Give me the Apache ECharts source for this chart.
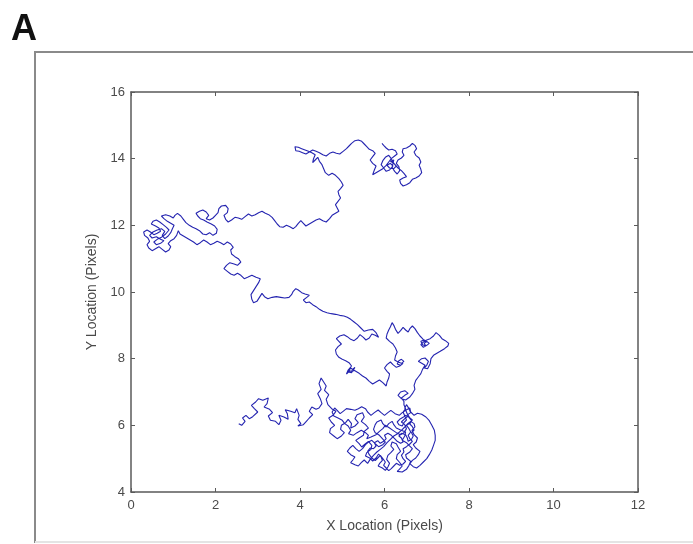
<!DOCTYPE html>
<html>
<head>
<meta charset="utf-8">
<script src="https://cdn.jsdelivr.net/npm/echarts@6/dist/echarts.min.js"></script>
<style>
html,body{margin:0;padding:0;background:#fff;}
#chart{width:693px;height:544px;}
</style>
</head>
<body>
<div id="chart"></div>
<script>
// Trajectory, as [X location, Y location] (pixels), in walk order
var tailPoints = [
[2.55,6.05],[2.62,6.0],[2.7,6.12],[2.64,6.22],[2.72,6.3],[2.8,6.2],[2.88,6.26],[3.0,6.4],[2.92,6.5],[2.85,6.6],[2.95,6.7],[3.02,6.8],[3.12,6.75],[3.25,6.82],[3.22,6.65],[3.15,6.55],[3.28,6.48],[3.35,6.38],[3.25,6.28],[3.3,6.15],[3.42,6.12],[3.5,6.02],[3.55,6.15],[3.5,6.3],[3.62,6.25],[3.72,6.18],[3.7,6.35],[3.65,6.47],[3.78,6.42],[3.88,6.38],[3.92,6.5],[3.98,6.3],[3.95,6.18],[4.02,6.05],[3.95,5.98],[4.08,6.02],[4.15,6.12],[4.22,6.22],[4.3,6.32],[4.22,6.42],[4.28,6.55],[4.38,6.48],[4.45,6.52],[4.52,6.65],[4.48,6.8],[4.42,6.95],[4.5,7.08],[4.45,7.25],[4.5,7.42],[4.56,7.3],[4.62,7.18],[4.58,7.05],[4.68,6.92],[4.62,6.78],[4.66,6.62]
];
var bottomClusterPoints = [
[4.75,6.5],[4.85,6.42],[4.78,6.3],[4.68,6.22],[4.74,6.1],[4.82,6.0],[4.72,5.9],[4.7,5.78],[4.8,5.68],[4.88,5.6],[4.98,5.68],[5.05,5.78],[4.96,5.88],[4.98,6.0],[5.08,6.08],[5.14,6.18],[5.22,6.05],[5.2,5.92],[5.3,5.98],[5.38,6.08],[5.3,6.2],[5.35,6.32],[5.48,6.38],[5.52,6.25],[5.45,6.12],[5.55,6.02],[5.62,5.92],[5.52,5.82],[5.5,5.7],[5.4,5.62],[5.32,5.55],[5.4,5.45],[5.46,5.35],[5.55,5.45],[5.62,5.52],[5.7,5.4],[5.68,5.28],[5.58,5.18],[5.55,5.08],[5.65,5.02],[5.72,4.93],[5.8,5.02],[5.86,5.14],[5.92,5.05],[5.95,4.95],[5.88,4.85],[5.85,4.78],[5.95,4.72],[6.02,4.65],[6.08,4.75],[6.12,4.86],[6.05,4.98],[6.08,5.1],[6.15,5.18],[6.22,5.28],[6.15,5.38],[6.18,5.5],[6.28,5.45],[6.32,5.35],[6.38,5.22],[6.3,5.12],[6.28,5.0],[6.35,4.9],[6.42,4.78],[6.35,4.68],[6.3,4.62],[6.42,4.6],[6.52,4.68],[6.58,4.8],[6.62,4.92],[6.52,5.02],[6.5,5.12],[6.6,5.2],[6.66,5.3],[6.58,5.4],[6.52,5.48],[6.42,5.55],[6.48,5.68],[6.5,5.8],[6.38,5.86],[6.28,5.92],[6.22,6.02],[6.18,6.12],[6.1,6.05],[6.04,5.95],[5.96,6.05],[5.92,6.16],[5.82,6.1],[5.78,6.02],[5.74,5.88],[5.78,5.78],[5.88,5.7],[5.95,5.6],[6.02,5.5],[5.96,5.42],[5.86,5.36],[5.78,5.45],[5.7,5.55],[5.62,5.5],[5.55,5.42],[5.48,5.3],[5.4,5.22],[5.32,5.3],[5.25,5.4],[5.18,5.32],[5.12,5.22],[5.2,5.12],[5.3,5.05],[5.25,4.96],[5.2,4.88],[5.3,4.82],[5.38,4.78],[5.45,4.88],[5.52,4.96],[5.6,4.86],
[5.66,4.98],[5.74,5.1],[5.82,5.2],[5.9,5.28],[5.98,5.36],[6.06,5.48],[6.14,5.58],[6.22,5.68],[6.3,5.74],[6.4,5.85],[6.48,5.95],[6.55,6.05],[6.62,6.12],[6.7,6.05],[6.72,5.95],[6.65,5.85],[6.7,5.72],[6.78,5.62],[6.75,5.5],[6.68,5.42],[6.74,5.32],[6.84,5.22],[6.8,5.12],[6.74,5.02],[6.66,4.95],[6.6,4.85],[6.68,4.76],[6.76,4.72],[6.84,4.8],[6.92,4.9],[7.0,5.0],[7.06,5.12],[7.12,5.26],[7.16,5.4],[7.2,5.55],[7.2,5.7],[7.18,5.85],[7.12,6.0],[7.06,6.14],[6.98,6.25],[6.88,6.33],[6.78,6.36],[6.7,6.3],[6.62,6.4],[6.6,6.52],[6.5,6.45],[6.42,6.38],[6.35,6.3],[6.25,6.35],[6.15,6.45],[6.08,6.38],[6.0,6.3],[5.92,6.38],[5.85,6.46],[5.76,6.38],[5.68,6.3],[5.6,6.4],[5.55,6.5],[5.46,6.56],[5.38,6.5],[5.3,6.45],[5.2,6.48],[5.1,6.5],[5.02,6.42],[4.95,6.35],[4.88,6.45],[4.82,6.52],[4.76,6.4],[4.8,6.28],[4.9,6.22],[5.0,6.15],[5.06,6.05],[5.14,5.98],[5.2,5.85],[5.15,5.75],[5.26,5.7],[5.35,5.78],[5.45,5.85],[5.55,5.78],[5.62,5.7],[5.58,5.6],[5.68,5.65],[5.8,5.72],[5.88,5.82],[5.96,5.9],[6.02,6.0],[6.12,5.92],[6.2,5.85],[6.28,5.78],[6.38,5.72],[6.46,5.78],[6.52,5.9],[6.48,6.02],[6.4,6.1],[6.48,6.2],[6.56,6.28],[6.52,6.4],[6.48,6.52],[6.52,6.62],
[6.58,6.5],[6.62,6.38],[6.55,6.32],[6.6,6.22],[6.66,6.16],[6.6,6.06],[6.52,6.0],[6.58,5.9],[6.62,5.8],[6.56,5.7],[6.6,5.6],[6.66,5.52],[6.6,5.44],[6.52,5.36],[6.44,5.3],[6.46,5.2],[6.4,5.1],[6.44,5.0],[6.5,4.92],[6.44,4.84],[6.36,4.8],[6.28,4.86],[6.22,4.78],[6.16,4.7],[6.1,4.64],[6.04,4.72],[5.98,4.8],[6.02,4.9],[5.96,5.0],[5.9,5.1],[5.84,5.02],[5.78,4.94],[5.7,5.02],[5.64,5.12],[5.6,5.22],[5.66,5.32],[5.74,5.3],[5.8,5.38],[5.76,5.48],[5.84,5.54],[5.9,5.46],[5.98,5.52],[6.04,5.6],[6.0,5.7],[6.08,5.76],[6.16,5.7],[6.24,5.6],[6.3,5.52],[6.38,5.46],[6.44,5.5],[6.4,5.62],[6.34,5.68],[6.4,5.76],[6.5,5.72],[6.54,5.62],[6.56,5.52],[6.64,5.58],[6.68,5.68],[6.64,5.78],[6.7,5.86],[6.66,5.96],[6.6,6.04],[6.64,6.14],[6.58,6.24],[6.5,6.3],[6.44,6.24],[6.36,6.18],[6.3,6.1],[6.34,6.02],[6.42,5.98],[6.46,6.08],[6.52,6.16],[6.48,6.28],[6.44,6.4],[6.5,6.5],[6.46,6.62]
];
var middleClusterPoints = [
[6.46,6.72],[6.4,6.82],[6.48,6.9],[6.56,6.96],[6.48,7.04],[6.38,7.0],[6.32,6.9],[6.4,6.8],[6.5,6.76],[6.6,6.85],[6.66,6.95],[6.72,7.08],[6.7,7.2],[6.74,7.35],[6.8,7.45],[6.86,7.55],[6.9,7.68],[6.96,7.8],[6.88,7.86],[6.8,7.92],[6.88,8.0],[6.96,8.02],[7.04,7.92],[7.0,7.8],[6.94,7.72],[7.02,7.7],[7.08,7.85],[7.1,8.0],[7.16,8.1],[7.24,8.16],[7.32,8.22],[7.42,8.3],[7.5,8.38],[7.52,8.46],[7.44,8.54],[7.36,8.6],[7.3,8.7],[7.22,8.78],[7.16,8.68],[7.08,8.6],[7.0,8.56],[6.92,8.5],[6.86,8.42],[6.92,8.34],[7.0,8.4],[7.06,8.46],[7.0,8.52],[6.94,8.46],[6.98,8.38],[6.9,8.42],[6.86,8.52],[6.94,8.56],[7.02,8.5],[6.96,8.5],[6.9,8.6],[6.84,8.68],[6.78,8.78],[6.72,8.9],[6.66,8.98],[6.6,8.9],[6.56,8.8],[6.5,8.86],[6.44,8.94],[6.38,8.84],[6.32,8.76],[6.26,8.88],[6.22,9.0],[6.18,9.08],[6.14,8.96],[6.1,8.86],[6.06,8.74],[6.04,8.62],[6.12,8.52],[6.2,8.44],[6.26,8.32],[6.3,8.2],[6.26,8.08],[6.24,7.96],[6.32,7.9],[6.4,7.86],[6.46,7.92],[6.4,7.98],[6.34,7.94],[6.3,7.84],[6.38,7.8],[6.44,7.86],[6.36,7.78],[6.28,7.74],[6.2,7.82],[6.14,7.9],[6.06,7.82],[6.0,7.72],[6.06,7.62],[6.12,7.54],[6.1,7.42],[6.06,7.3],[6.04,7.18],[5.96,7.28],[5.88,7.36],[5.8,7.3],[5.72,7.24],[5.64,7.32],[5.56,7.42],[5.48,7.48],[5.4,7.56],[5.32,7.62],[5.24,7.68],[5.3,7.74],[5.22,7.58],[5.14,7.6],[5.2,7.72],[5.28,7.64],[5.16,7.62],[5.1,7.54],[5.14,7.66],[5.22,7.78],[5.16,7.88],[5.08,7.94],[5.0,7.98],[4.92,8.04],[4.86,8.14],[4.84,8.26],[4.9,8.36],[4.98,8.44],[4.92,8.52],[4.86,8.6],[4.94,8.68],[5.04,8.72],[5.12,8.66],[5.2,8.58],[5.28,8.54],[5.36,8.62],[5.42,8.72],[5.5,8.64],[5.56,8.56],[5.64,8.62],[5.7,8.74],[5.78,8.7],[5.86,8.64],[5.8,8.78],[5.72,8.88],[5.62,8.86],[5.52,8.82],[5.44,8.92],[5.36,9.02],[5.28,9.1],[5.2,9.18],[5.12,9.24],[5.04,9.28],[4.94,9.3],[4.84,9.33],[4.74,9.35],[4.64,9.38],[4.54,9.42]
];
var diagonalPoints = [
[4.46,9.48],[4.38,9.56],[4.3,9.62],[4.22,9.7],[4.14,9.68],[4.08,9.76],[4.16,9.84],[4.22,9.9],[4.12,9.94],[4.04,9.98],[3.96,10.06],[3.9,10.1],[3.84,10.02],[3.8,9.92],[3.74,9.84],[3.64,9.82],[3.54,9.84],[3.44,9.86],[3.34,9.84],[3.24,9.8],[3.16,9.86],[3.1,9.96],[3.04,9.84],[2.98,9.72],[2.9,9.68],[2.86,9.78],[2.84,9.92],[2.9,10.04],[2.96,10.16],[3.02,10.28],[3.06,10.4],[2.96,10.44],[2.86,10.5],[2.76,10.44],[2.68,10.4],[2.6,10.5],[2.52,10.56],[2.44,10.5],[2.36,10.54],[2.28,10.62],[2.2,10.7],[2.26,10.8],[2.34,10.88],[2.44,10.84],[2.52,10.8],[2.6,10.9],[2.54,11.0],[2.46,11.06],[2.38,11.14],[2.36,11.26],[2.42,11.34],[2.36,11.44],[2.28,11.5],[2.2,11.42],[2.12,11.48],[2.04,11.52],[1.96,11.46],[1.88,11.42],[1.8,11.5],[1.72,11.56],[1.64,11.48],[1.56,11.42],[1.48,11.5],[1.4,11.56],[1.32,11.62],[1.24,11.68],[1.16,11.74]
];
var leftAndTopRowPoints = [
[1.12,11.84],[1.08,11.7],[1.02,11.6],[0.94,11.54],[0.88,11.45],[0.94,11.36],[0.9,11.26],[0.82,11.2],[0.74,11.28],[0.66,11.36],[0.58,11.3],[0.5,11.24],[0.42,11.32],[0.38,11.42],[0.44,11.52],[0.4,11.62],[0.32,11.7],[0.3,11.8],[0.38,11.86],[0.46,11.8],[0.54,11.72],[0.62,11.76],[0.7,11.82],[0.66,11.92],[0.58,11.98],[0.48,12.04],[0.52,12.12],[0.6,12.16],[0.68,12.1],[0.76,12.02],[0.84,11.94],[0.9,11.86],[0.82,11.74],[0.72,11.64],[0.62,11.58],[0.54,11.5],[0.6,11.42],[0.7,11.46],[0.78,11.54],[0.7,11.58],[0.6,11.66],[0.5,11.62],[0.44,11.7],[0.52,11.8],[0.62,11.86],[0.72,11.9],[0.8,11.82],[0.74,11.7],[0.8,11.6],[0.88,11.68],[0.94,11.78],[0.98,11.9],[1.02,12.0],[0.94,12.06],[0.86,12.12],[0.78,12.2],[0.72,12.28],[0.82,12.32],[0.92,12.28],[1.0,12.22],[1.04,12.3],[1.1,12.36],[1.18,12.28],[1.24,12.18],[1.3,12.08],[1.38,12.0],[1.46,11.94],[1.54,11.9],[1.62,11.84],[1.7,11.74],[1.78,11.72],[1.86,11.78],[1.94,11.7],[2.02,11.76],[2.04,11.88],[1.98,11.98],[1.9,12.04],[1.8,12.1],[1.72,12.16],[1.64,12.2],[1.58,12.28],[1.54,12.36],[1.62,12.42],[1.7,12.46],[1.78,12.4],[1.84,12.3],[1.78,12.2],[1.86,12.16],[1.94,12.22],[2.0,12.3],[2.06,12.38],[2.08,12.5],[2.14,12.58],[2.24,12.6],[2.3,12.5],[2.28,12.38],[2.2,12.3],[2.24,12.18],[2.3,12.1],[2.38,12.16],[2.46,12.24],[2.54,12.22],[2.62,12.18],[2.7,12.26],[2.78,12.34],[2.86,12.28],[2.94,12.32],[3.02,12.38],[3.1,12.42],[3.18,12.36],[3.26,12.32],[3.34,12.24],[3.4,12.14],[3.46,12.04],[3.52,11.96],[3.6,11.94],[3.68,12.0],[3.76,11.96],[3.84,11.9],[3.9,11.96],[3.96,12.06],[4.02,12.14],[4.08,12.06],[4.14,11.98],[4.22,12.04],[4.3,12.1],[4.38,12.16],[4.46,12.2],[4.54,12.14],[4.62,12.1],[4.7,12.2],[4.76,12.3],[4.84,12.36],[4.92,12.42],[4.88,12.52],[4.84,12.62],[4.9,12.72],[4.96,12.82],[4.92,12.92],[4.9,13.02],[4.96,13.1],[5.02,13.2],[4.98,13.3],[4.92,13.4],[4.84,13.5],[4.76,13.56],[4.68,13.5],[4.6,13.58],[4.56,13.7],[4.52,13.82]
];
var topPoints = [
[4.46,13.92],[4.42,14.04],[4.36,13.96],[4.3,13.88],[4.32,14.0],[4.36,14.12],[4.28,14.18],[4.2,14.22],[4.12,14.26],[4.04,14.3],[3.96,14.34],[3.88,14.36],[3.84,14.3],[3.9,14.24],[3.98,14.22],[4.06,14.18],[4.14,14.14],[4.22,14.2],[4.3,14.26],[4.38,14.22],[4.46,14.18],[4.54,14.12],[4.62,14.08],[4.7,14.16],[4.78,14.2],[4.86,14.16],[4.94,14.14],[5.02,14.22],[5.1,14.3],[5.16,14.38],[5.22,14.46],[5.3,14.54],[5.38,14.56],[5.46,14.52],[5.52,14.44],[5.58,14.36],[5.64,14.28],[5.72,14.24],[5.78,14.16],[5.72,14.06],[5.66,13.96],[5.72,13.86],[5.8,13.78],[5.76,13.66],[5.72,13.52],[5.8,13.58],[5.88,13.64],[5.96,13.7],
[6.04,13.8],[6.1,13.9],[6.16,14.0],[6.1,14.1],[6.02,14.04],[5.96,13.94],[5.92,13.82],[5.98,13.72],[6.04,13.62],[6.12,13.66],[6.2,13.78],[6.14,13.86],[6.06,13.8],[6.12,13.72],[6.22,13.7],[6.28,13.78],[6.22,13.86],[6.14,13.92],[6.22,13.96],[6.18,13.74],[6.24,13.62],[6.3,13.54],[6.36,13.64],[6.34,13.76],[6.28,13.86],[6.32,13.96],[6.4,14.02],[6.46,14.1],[6.42,14.2],[6.44,14.3],[6.52,14.32],[6.6,14.38],[6.66,14.46],[6.72,14.4],[6.76,14.3],[6.7,14.2],[6.74,14.1],[6.82,14.02],[6.86,13.9],[6.82,13.8],[6.86,13.68],[6.88,13.58],[6.82,13.48],[6.74,13.42],[6.66,13.38],[6.6,13.28],[6.52,13.22],[6.44,13.18],[6.38,13.26],[6.36,13.36],[6.44,13.42],[6.52,13.46],[6.46,13.56],[6.4,13.64],[6.32,13.72],[6.26,13.8],[6.2,13.9],[6.16,14.0],[6.24,14.08],[6.3,14.14],[6.26,14.24],[6.18,14.28],[6.1,14.26],[6.04,14.32],[5.98,14.4],[5.94,14.46]
];
var xTicks = [0, 2, 4, 6, 8, 10, 12];
var yTicks = [4, 6, 8, 10, 12, 14, 16];
var xTitle = 'X Location (Pixels)';
var yTitle = 'Y Location (Pixels)';
var panelLabel = 'A';

var pts = [].concat(tailPoints, bottomClusterPoints, middleClusterPoints, diagonalPoints, leftAndTopRowPoints, topPoints);

var axisCol = '#5a5a5a';
var labelCol = '#4a4a4a';
var font = 'Liberation Sans, Arial, sans-serif';

var chart = echarts.init(document.getElementById('chart'), null, {renderer: 'canvas'});
function axisBase(isX, show, pos, ticks, nm) {
  return {
    type: 'value', position: pos, min: ticks[0], max: ticks[ticks.length - 1], interval: 2,
    name: show ? nm : '', nameLocation: 'middle',
    nameGap: isX ? 27 : 31,
    nameTextStyle: {color: labelCol, fontSize: 14, fontFamily: font},
    axisLine: {show: true, onZero: false, lineStyle: {color: axisCol, width: 1.5}},
    axisTick: {show: true, inside: true, length: 4, lineStyle: {color: axisCol, width: 1}},
    axisLabel: {show: show, color: labelCol, fontSize: 13, fontFamily: font, margin: isX ? 7 : 6},
    splitLine: {show: false}
  };
}
chart.setOption({
  animation: false,
  backgroundColor: '#fff',
  grid: {left: 131, top: 92, width: 507, height: 400, containLabel: false},
  xAxis: [axisBase(true, true, 'bottom', xTicks, xTitle),
          axisBase(true, false, 'top', xTicks, '')],
  yAxis: [axisBase(false, true, 'left', yTicks, yTitle),
          axisBase(false, false, 'right', yTicks, '')],
  graphic: [
    {type: 'rect', shape: {x: 35, y: 52, width: 700, height: 490}, style: {fill: 'none', stroke: '#8a8a8a', lineWidth: 2}, z: -1},
    {type: 'line', shape: {x1: 35, y1: 542, x2: 693, y2: 542}, style: {stroke: '#e4e4e4', lineWidth: 2}, z: 0},
    {type: 'text', left: 11, top: 12, style: {text: panelLabel, fill: '#111', font: 'bold 36px Liberation Sans, Arial, sans-serif'}}
  ],
  series: [{
    type: 'line', data: pts, xAxisIndex: 0, yAxisIndex: 0,
    showSymbol: false, smooth: false,
    lineStyle: {color: '#2424b0', width: 1.1},
    clip: true
  }]
});
</script>
</body>
</html>
